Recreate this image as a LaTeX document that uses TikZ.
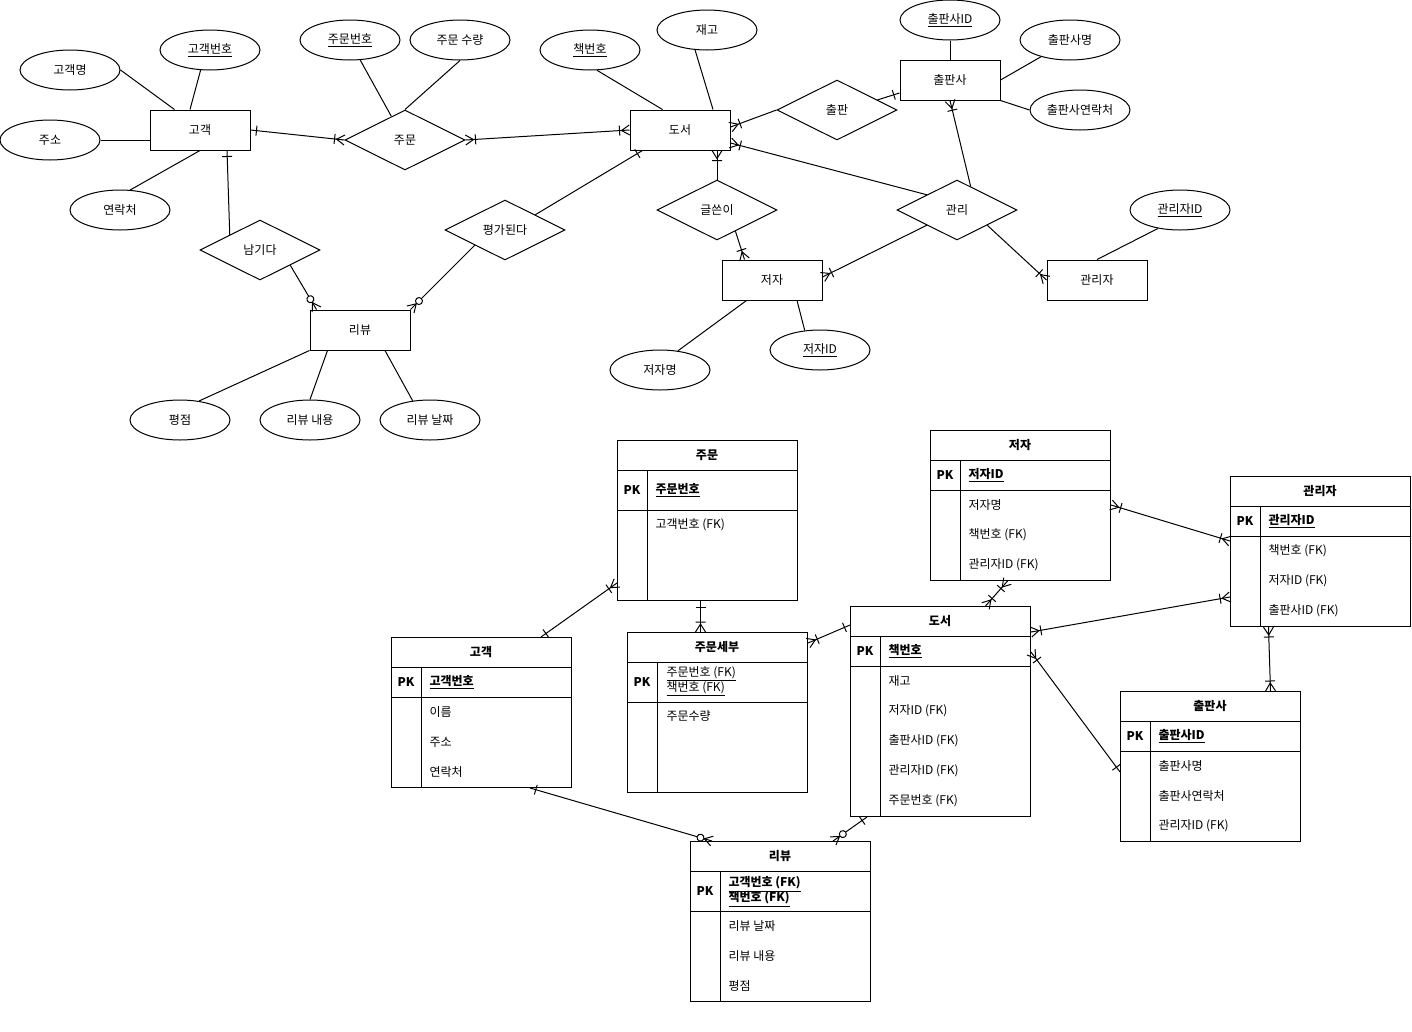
\documentclass[tikz,border=0pt]{standalone}
\usepackage{fontspec}
\setmainfont{Noto Sans CJK KR}
\usetikzlibrary{shapes.geometric}

\pgfdeclarearrow{
  name=erone,
  setup code={
    \pgfarrowssettipend{0pt}
    \pgfarrowssetlineend{0pt}
    \pgfarrowssetbackend{-8pt}
  },
  drawing code={
    \pgfpathmoveto{\pgfqpoint{-6pt}{5pt}}
    \pgfpathlineto{\pgfqpoint{-6pt}{-5pt}}
    \pgfusepathqstroke
  }
}
\pgfdeclarearrow{
  name=ermany,
  setup code={
    \pgfarrowssettipend{0pt}
    \pgfarrowssetlineend{0pt}
    \pgfarrowssetbackend{-10pt}
  },
  drawing code={
    \pgfpathmoveto{\pgfqpoint{0pt}{5pt}}
    \pgfpathlineto{\pgfqpoint{-8pt}{0pt}}
    \pgfpathlineto{\pgfqpoint{0pt}{-5pt}}
    \pgfpathmoveto{\pgfqpoint{-10pt}{5pt}}
    \pgfpathlineto{\pgfqpoint{-10pt}{-5pt}}
    \pgfusepathqstroke
  }
}
\pgfdeclarearrow{
  name=erzmany,
  setup code={
    \pgfarrowssettipend{0pt}
    \pgfarrowssetlineend{0pt}
    \pgfarrowssetbackend{-16pt}
  },
  drawing code={
    \pgfpathmoveto{\pgfqpoint{0pt}{5pt}}
    \pgfpathlineto{\pgfqpoint{-8pt}{0pt}}
    \pgfpathlineto{\pgfqpoint{0pt}{-5pt}}
    \pgfusepathqstroke
    \pgfsetfillcolor{white}
    \pgfpathcircle{\pgfqpoint{-12pt}{0pt}}{3.5pt}
    \pgfusepathqfillstroke
  }
}

\begin{document}
\begin{tikzpicture}
  [x=1pt,y=-1pt,line width=1pt,font=\fontsize{12}{14}\selectfont,
   entity/.style={draw,rectangle,minimum width=100,minimum height=40},
   attr/.style={draw,ellipse,minimum width=100,minimum height=40,inner sep=0},
   rel/.style={draw,diamond,aspect=2,minimum width=120,minimum height=60,inner sep=0},
   tbl/.style={draw,rectangle,anchor=north west,minimum width=180,inner sep=0},
   bold/.style={font=\fontsize{12}{14}\selectfont\bfseries},
   field/.style={anchor=west,inner sep=0}]
\useasboundingbox (0,0) rectangle (1412,1031);

\node[entity] (cust) at (200,130) {고객};
\node[entity] (book) at (680,130) {도서};
\node[entity] (pub) at (950,80) {출판사};
\node[entity] (author) at (772,280) {저자};
\node[entity] (mgr) at (1097,280) {관리자};
\node[entity] (review) at (360,330) {리뷰};

\node[rel] (rOrder) at (405,140) {주문};
\node[rel] (rPub) at (837,110) {출판};
\node[rel] (rWrite) at (717,210) {글쓴이};
\node[rel] (rMgmt) at (957,210) {관리};
\node[rel] (rLeave) at (260,250) {남기다};
\node[rel] (rEval) at (505,230) {평가된다};

\node[attr] (aCustName) at (70,70) {고객명};
\node[attr] (aCustNo) at (210,50) {\underline{고객번호}};
\node[attr] (aAddr) at (50,140) {주소};
\node[attr] (aPhone) at (120,210) {연락처};
\node[attr] (aOrderNo) at (350,40) {\underline{주문번호}};
\node[attr] (aQty) at (460,40) {주문 수량};
\node[attr] (aBookNo) at (590,50) {\underline{책번호}};
\node[attr] (aStock) at (707,30) {재고};
\node[attr] (aPubId) at (950,20) {\underline{출판사ID}};
\node[attr] (aPubName) at (1070,40) {출판사명};
\node[attr] (aPubTel) at (1080,110) {출판사연락처};
\node[attr] (aMgrId) at (1180,210) {\underline{관리자ID}};
\node[attr] (aAuthName) at (660,370) {저자명};
\node[attr] (aAuthId) at (820,350) {\underline{저자ID}};
\node[attr] (aScore) at (180,420) {평점};
\node[attr] (aText) at (310,420) {리뷰 내용};
\node[attr] (aDate) at (430,420) {리뷰 날짜};

\foreach \from/\to in {aPhone.63/cust.south,aOrderNo.-63/rOrder.120,aQty.south/rOrder.north,
    aPubId/pub,aPubName.-150/pub.east,aPubTel.west/pub.south east,aMgrId.-140/mgr.north,
    aScore.45/review.south west}
  \draw (\from) -- (\to);
\draw (aCustName.east) -- ([xshift=25pt]cust.north west);
\draw (aCustNo.-115) -- ([xshift=-10pt]cust.north);
\draw (aAddr.east) -- ([yshift=-10pt]cust.west);
\draw (aBookNo.-71) -- ([xshift=33pt]book.north west);
\draw (aStock.-121) -- ([xshift=33pt]book.north);
\draw (aAuthName.47) -- ([xshift=25pt]author.south west);
\draw (aAuthId.128) -- ([xshift=25pt]author.south);
\draw (aText.north) -- ([xshift=18pt]review.south west);
\draw (aDate.132) -- ([xshift=25pt]review.south);

\draw[{erone}-{ermany}] (cust.east) -- (rOrder.west);
\draw[{ermany}-{ermany}] (rOrder.east) -- (book.west);
\draw[{erone}-] ([xshift=27pt]cust.south) -- (rLeave.north west);
\draw[-{erzmany}] (rLeave.south east) -- ([xshift=7pt]review.north west);
\draw[-{erone}] (rEval.north east) -- ([xshift=13pt]book.south west);
\draw[-{erzmany}] (rEval.south west) -- (review.north east);
\draw[-{ermany}] (rPub.west) -- ([yshift=3pt]book.east);
\draw[-{erone}] (rPub.14) -- ([yshift=-13pt]pub.west);
\draw[-{ermany}] (rMgmt.north west) -- ([yshift=-13pt]book.east);
\draw[-{ermany}] (rMgmt.60) -- (pub.south);
\draw[-{ermany}] (rMgmt.south west) -- ([yshift=3pt]author.east);
\draw[-{ermany}] (rMgmt.south east) -- (mgr.west);
\draw[-{ermany}] (rWrite.north) -- ([xshift=37pt]book.south);
\draw[-{ermany}] (rWrite.-49) -- ([xshift=23pt]author.north west);

\node[tbl,minimum height=160] (tOrder) at (617,440) {};
\draw (617,470) -- (797,470) (617,510) -- (797,510) (647,470) -- (647,600);
\node[bold] (oHead) at (707,455) {주문};
\node[bold] (oPK) at (632,490) {PK};
\node[field,bold] (oKey) at (655,490) {\underline{주문번호}};
\node[field] (oRow1) at (655,525) {고객번호 (FK)};

\node[tbl,minimum height=150] (tCust) at (391,637) {};
\draw (391,667) -- (571,667) (391,697) -- (571,697) (421,667) -- (421,787);
\node[bold] (cHead) at (481,652) {고객};
\node[bold] (cPK) at (406,682) {PK};
\node[field,bold] (cKey) at (429,682) {\underline{고객번호}};
\foreach \t [count=\i] in {이름,주소,연락처}
  \node[field] (cRow\i) at (429,{682+30*\i}) {\t};

\node[tbl,minimum height=160] (tDetail) at (627,632) {};
\draw (627,662) -- (807,662) (627,702) -- (807,702) (657,662) -- (657,792);
\node[bold] (dHead) at (717,647) {주문세부};
\node[bold] (dPK) at (642,682) {PK};
\node[field] (dKey1) at (666,674) {\underline{주문번호 (FK)}};
\node[field] (dKey2) at (666,689) {\underline{책번호 (FK)}};
\node[field] (dRow1) at (666,716) {주문수량};

\node[tbl,minimum height=150] (tAuthor) at (930,430) {};
\draw (930,460) -- (1110,460) (930,490) -- (1110,490) (960,460) -- (960,580);
\node[bold] (wHead) at (1020,445) {저자};
\node[bold] (wPK) at (945,475) {PK};
\node[field,bold] (wKey) at (968,475) {\underline{저자ID}};
\foreach \t [count=\i] in {저자명,책번호 (FK),관리자ID (FK)}
  \node[field] (wRow\i) at (968,{475+30*\i}) {\t};

\node[tbl,minimum height=150] (tMgr) at (1230,476) {};
\draw (1230,506) -- (1410,506) (1230,536) -- (1410,536) (1260,506) -- (1260,626);
\node[bold] (mHead) at (1320,491) {관리자};
\node[bold] (mPK) at (1245,521) {PK};
\node[field,bold] (mKey) at (1268,521) {\underline{관리자ID}};
\foreach \t [count=\i] in {책번호 (FK),저자ID (FK),출판사ID (FK)}
  \node[field] (mRow\i) at (1268,{521+30*\i}) {\t};

\node[tbl,minimum height=210] (tBook) at (850,606) {};
\draw (850,636) -- (1030,636) (850,666) -- (1030,666) (880,636) -- (880,816);
\node[bold] (bHead) at (940,621) {도서};
\node[bold] (bPK) at (865,651) {PK};
\node[field,bold] (bKey) at (888,651) {\underline{책번호}};
\foreach \t [count=\i] in {재고,저자ID (FK),출판사ID (FK),관리자ID (FK),주문번호 (FK)}
  \node[field] (bRow\i) at (888,{651+30*\i}) {\t};

\node[tbl,minimum height=150] (tPub) at (1120,691) {};
\draw (1120,721) -- (1300,721) (1120,751) -- (1300,751) (1150,721) -- (1150,841);
\node[bold] (pHead) at (1210,706) {출판사};
\node[bold] (pPK) at (1135,736) {PK};
\node[field,bold] (pKey) at (1158,736) {\underline{출판사ID}};
\foreach \t [count=\i] in {출판사명,출판사연락처,관리자ID (FK)}
  \node[field] (pRow\i) at (1158,{736+30*\i}) {\t};

\node[tbl,minimum height=160] (tReview) at (690,841) {};
\draw (690,871) -- (870,871) (690,911) -- (870,911) (720,871) -- (720,1001);
\node[bold] (vHead) at (780,856) {리뷰};
\node[bold] (vPK) at (705,891) {PK};
\node[field,bold] (vKey1) at (728,884) {\underline{고객번호 (FK)}};
\node[field,bold] (vKey2) at (728,899) {\underline{책번호 (FK)}};
\foreach \t [count=\i] in {리뷰 날짜,리뷰 내용,평점}
  \node[field] (vRow\i) at (728,{896+30*\i}) {\t};

\draw[{ermany}-{erone}] ([yshift=-143pt]tOrder.north west) -- ([xshift=150pt]tCust.north west);
\draw[{erone}-{ermany}] ([xshift=-7pt]tOrder.south) -- ([xshift=-17pt]tDetail.north);
\draw[{ermany}-{erone}] ([yshift=-11pt]tDetail.north east) -- ([yshift=-19pt]tBook.north west);
\draw[{ermany}-{ermany}] ([xshift=-13pt]tAuthor.south) -- ([xshift=45pt]tBook.north);
\draw[{ermany}-{ermany}] ([yshift=-75pt]tAuthor.north east) -- ([yshift=-65pt]tMgr.north west);
\draw[{ermany}-{ermany}] ([yshift=-26pt]tBook.north east) -- ([yshift=-121pt]tMgr.north west);
\draw[{ermany}-{ermany}] ([xshift=-52pt]tMgr.south) -- ([xshift=60pt]tPub.north);
\draw[{ermany}-{erone}] ([yshift=-46pt]tBook.north east) -- ([yshift=-81pt]tPub.north west);
\draw[{erone}-{erzmany}] ([xshift=139pt]tCust.south west) -- ([xshift=22pt]tReview.north west);
\draw[{erone}-{erzmany}] ([xshift=17pt]tBook.south west) -- ([xshift=-38pt]tReview.north east);
\end{tikzpicture}
\end{document}
